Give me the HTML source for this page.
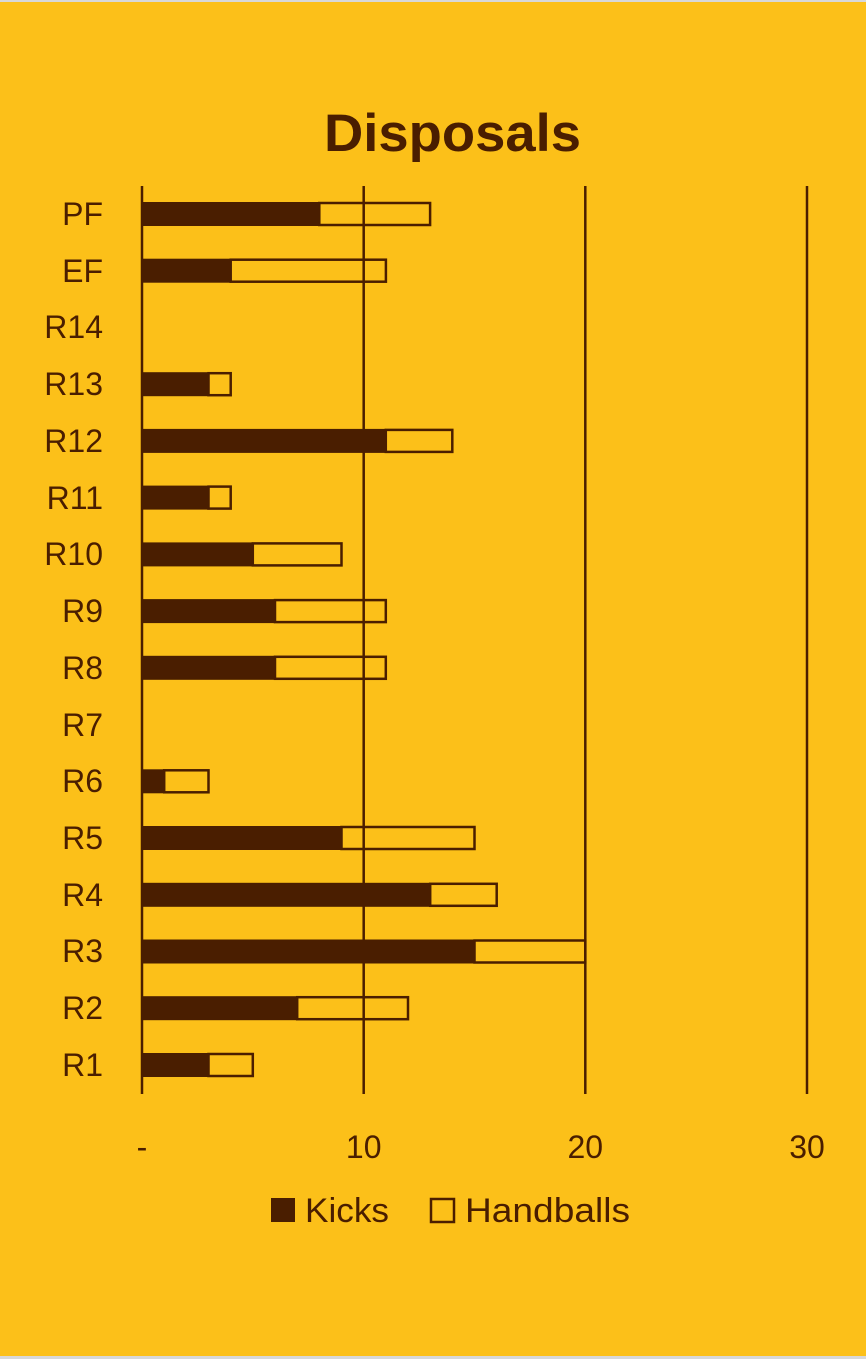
<!DOCTYPE html>
<html><head><meta charset="utf-8"><style>
html,body{margin:0;padding:0;background:#FCC019;}
svg{display:block}
</style></head><body>
<svg width="866" height="1359" xmlns="http://www.w3.org/2000/svg" font-family="Liberation Sans, DejaVu Sans, sans-serif" fill="#4A1E00">
<rect width="866" height="1359" fill="#FCC019"/>
<rect width="866" height="2" fill="#d8d8d8"/>
<rect y="1356" width="866" height="3" fill="#d8d8d8"/>
<text x="324" y="151" font-size="53" font-weight="bold" textLength="257" lengthAdjust="spacingAndGlyphs">Disposals</text>
<g stroke="#4A1E00" stroke-width="2.5">
<line x1="142" y1="186" x2="142" y2="1094"/>
<line x1="363.7" y1="186" x2="363.7" y2="1094"/>
<line x1="585.3" y1="186" x2="585.3" y2="1094"/>
<line x1="807" y1="186" x2="807" y2="1094"/>
</g>
<g font-size="32" text-anchor="middle">
<text x="142" y="1158">-</text>
<text x="363.7" y="1158">10</text>
<text x="585.3" y="1158">20</text>
<text x="807" y="1158">30</text>
</g>
<g font-size="32" text-anchor="end">
<text x="103" y="225">PF</text>
<text x="103" y="282">EF</text>
<text x="103" y="338">R14</text>
<text x="103" y="395">R13</text>
<text x="103" y="452">R12</text>
<text x="103" y="509">R11</text>
<text x="103" y="565">R10</text>
<text x="103" y="622">R9</text>
<text x="103" y="679">R8</text>
<text x="103" y="736">R7</text>
<text x="103" y="792">R6</text>
<text x="103" y="849">R5</text>
<text x="103" y="906">R4</text>
<text x="103" y="962">R3</text>
<text x="103" y="1019">R2</text>
<text x="103" y="1076">R1</text>
</g>
<g fill="#4A1E00">
<rect x="142" y="202" width="177.3" height="24"/>
<rect x="142" y="258.7" width="88.7" height="24"/>
<rect x="142" y="372.2" width="66.5" height="24"/>
<rect x="142" y="428.9" width="243.8" height="24"/>
<rect x="142" y="485.6" width="66.5" height="24"/>
<rect x="142" y="542.4" width="110.8" height="24"/>
<rect x="142" y="599.1" width="133" height="24"/>
<rect x="142" y="655.8" width="133" height="24"/>
<rect x="142" y="769.3" width="22.2" height="24"/>
<rect x="142" y="826" width="199.5" height="24"/>
<rect x="142" y="882.8" width="288.2" height="24"/>
<rect x="142" y="939.5" width="332.5" height="24"/>
<rect x="142" y="996.2" width="155.2" height="24"/>
<rect x="142" y="1053" width="66.5" height="24"/>
</g>
<g fill="none" stroke="#4A1E00" stroke-width="2.5">
<rect x="319.3" y="203" width="110.8" height="22"/>
<rect x="230.7" y="259.7" width="155.2" height="22"/>
<rect x="208.5" y="373.2" width="22.2" height="22"/>
<rect x="385.8" y="429.9" width="66.5" height="22"/>
<rect x="208.5" y="486.6" width="22.2" height="22"/>
<rect x="252.8" y="543.4" width="88.7" height="22"/>
<rect x="275" y="600.1" width="110.8" height="22"/>
<rect x="275" y="656.8" width="110.8" height="22"/>
<rect x="164.2" y="770.3" width="44.3" height="22"/>
<rect x="341.5" y="827" width="133" height="22"/>
<rect x="430.2" y="883.8" width="66.5" height="22"/>
<rect x="474.5" y="940.5" width="110.8" height="22"/>
<rect x="297.2" y="997.2" width="110.8" height="22"/>
<rect x="208.5" y="1054" width="44.3" height="22"/>
</g>
<rect x="271" y="1198" width="24" height="24" fill="#4A1E00"/>
<text x="305" y="1222" font-size="34" textLength="84" lengthAdjust="spacingAndGlyphs">Kicks</text>
<rect x="431" y="1199" width="23" height="23" fill="none" stroke="#4A1E00" stroke-width="2.5"/>
<text x="465" y="1222" font-size="34" textLength="165" lengthAdjust="spacingAndGlyphs">Handballs</text>
</svg>
</body></html>
